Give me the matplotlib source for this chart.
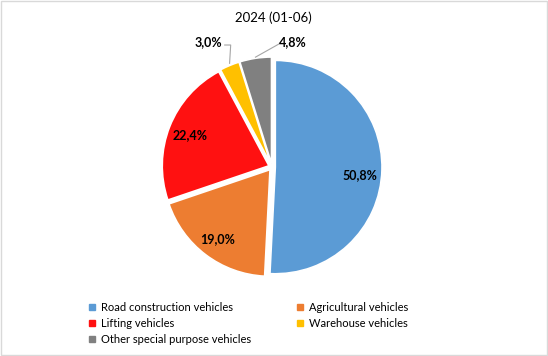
import numpy as np
import matplotlib
matplotlib.use("Agg")
import matplotlib.pyplot as plt
from matplotlib.lines import Line2D
from matplotlib.patches import Rectangle

plt.rcParams['font.family'] = ['Lato', 'DejaVu Sans']

# data
categories = ["Road construction vehicles", "Agricultural vehicles", "Lifting vehicles",
              "Warehouse vehicles", "Other special purpose vehicles"]
shares = [50.8, 19.0, 22.4, 3.0, 4.8]
colors = ["#5B9BD5", "#ED7D31", "#FF1111", "#FFC000", "#808080"]
title = "2024 (01-06)"

W, H = 548, 356
fig = plt.figure(figsize=(W / 100, H / 100), dpi=100)
fig.patches.append(Rectangle((0.001, 0.002), 0.997, 0.995, transform=fig.transFigure,
                             fill=False, edgecolor="#D9D9D9", linewidth=1))

# pie axes: centre (272,167) px, radius 110 px
cx, cy, r = 272, 167, 110
ax = fig.add_axes([(cx - r) / W, (H - cy - r) / H, 2 * r / W, 2 * r / H])

wedges, _ = ax.pie(shares, colors=colors, startangle=90, counterclock=False,
                   explode=[0.03] * 5, radius=0.97,
                   wedgeprops=dict(edgecolor="white", linewidth=1.2))
ax.set_xlim(-1, 1)
ax.set_ylim(-1, 1)
ax.set_aspect("equal")
ax.axis("off")

def fmt(v):
    return f"{v:.1f}".replace(".", ",") + "%"

def edge(i, rad=1.0):
    a = np.deg2rad((wedges[i].theta1 + wedges[i].theta2) / 2)
    return rad * np.cos(a), rad * np.sin(a)

# labels inside big slices
inside = {0: 0.8, 1: 0.82, 2: 0.8}
for i, d in inside.items():
    x, y = edge(i, d)
    ax.text(x, y - 0.05 * (i == 0), fmt(shares[i]),
            ha="center", va="center", fontsize=9, fontweight="bold")

# outside labels with leader lines
lc = "#A6A6A6"
ax.text(-0.58, 1.136, fmt(shares[3]), ha="center", va="center",
        fontsize=9, fontweight="bold")
ex, ey = edge(3, 1.0)
ax.plot([-0.43, ex + 0.01, ex], [1.109, 1.109, ey + 0.02], color=lc, lw=0.8, clip_on=False)

ax.text(0.19, 1.136, fmt(shares[4]), ha="center", va="center",
        fontsize=9, fontweight="bold")
ex, ey = edge(4, 1.0)
ax.plot([0.075, ex], [1.125, ey + 0.01], color=lc, lw=0.8, clip_on=False)

fig.text(273 / W, 1 - 18 / H, title, ha="center", va="center", fontsize=9.5)

order = [0, 2, 4, 1, 3]
handles = [Line2D([], [], linestyle="none", marker="s", markersize=4,
                  markerfacecolor=colors[i], markeredgecolor=colors[i]) for i in order]
fig.legend(handles, [categories[i] for i in order], ncol=2, loc="upper left",
           bbox_to_anchor=(89 / W, 1 - 302 / H), frameon=False, fontsize=8,
           handlelength=0.6, handletextpad=0.45, columnspacing=4.15,
           labelspacing=0.45, borderpad=0, borderaxespad=0)

fig.savefig("out.png", dpi=100)
